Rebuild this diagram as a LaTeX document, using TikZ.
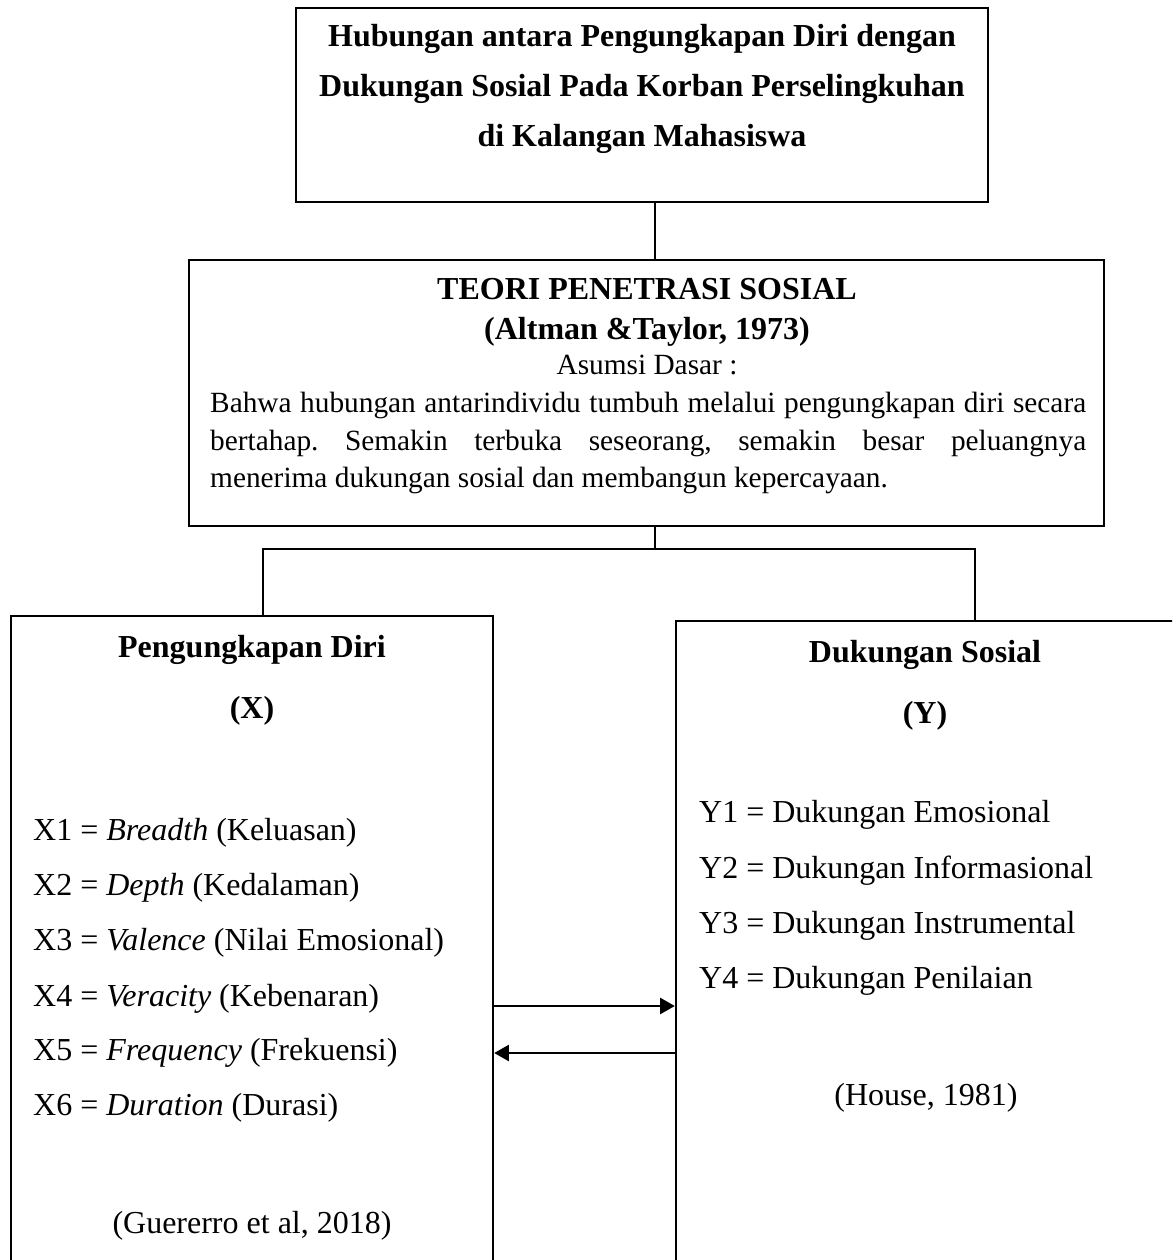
\documentclass[tikz,border=0pt]{standalone}
\usepackage{fontspec}
\setmainfont{Liberation Serif}
\usetikzlibrary{arrows.meta}
\def\upx{0.375pt}
\frenchspacing
\begin{document}
\begin{tikzpicture}[x=\upx, y=-\upx, line width=0.9pt,
  box/.style={draw, line width=0.9pt, inner sep=0pt},
  txt/.style={inner sep=0pt, font=\fontsize{12}{14.4}\selectfont},
  btxt/.style={inner sep=0pt, font=\fontsize{12}{14.4}\selectfont\bfseries},
  stxt/.style={inner sep=0pt, font=\fontsize{11}{13.2}\selectfont},
  arr/.style={-{Triangle[length=5.5pt,width=6pt]}, line width=0.9pt}]
\useasboundingbox (0,0) rectangle (1172,1260);
\clip (0,0) rectangle (1172,1260);

% boxes
\node[box, minimum width={692*\upx}, minimum height={194*\upx}] (top) at (642,105) {};
\node[box, minimum width={915*\upx}, minimum height={266*\upx}] (theory) at (646.5,393) {};
\node[box, minimum width={482*\upx}, minimum height={684*\upx}] (left) at (252,958) {};
\node[box, minimum width={524*\upx}, minimum height={679*\upx}] (right) at (938,960.5) {};

% title
\node[btxt, anchor=base] (t1) at (642,47) {Hubungan antara Pengungkapan Diri dengan};
\node[btxt, anchor=base] (t2) at (642,97) {Dukungan Sosial Pada Korban Perselingkuhan};
\node[btxt, anchor=base] (t3) at (642,147) {di Kalangan Mahasiswa};

% theory
\node[btxt, anchor=base] (h1) at (647,300) {TEORI PENETRASI SOSIAL};
\node[btxt, anchor=base] (h2) at (647,340) {(Altman \&Taylor, 1973)};
\node[stxt, anchor=base] (h3) at (647,375) {Asumsi Dasar :};
\node[stxt, anchor=base west] (p1) at (209,413) {\makebox[328.5pt][s]{Bahwa hubungan antarindividu tumbuh melalui pengungkapan diri secara}};
\node[stxt, anchor=base west] (p2) at (209,451) {\makebox[328.5pt][s]{bertahap. Semakin terbuka seseorang, semakin besar peluangnya}};
\node[stxt, anchor=base west] (p3) at (209,488) {menerima dukungan sosial dan membangun kepercayaan.};

% left box
\node[btxt, anchor=base] (lh) at (252,657) {Pengungkapan Diri};
\node[btxt, anchor=base] (lx) at (252,718) {(X)};
\node[txt, anchor=base west] (x1) at (32,840) {X1 = \textit{Breadth} (Keluasan)};
\node[txt, anchor=base west] (x2) at (32,895) {X2 = \textit{Depth} (Kedalaman)};
\node[txt, anchor=base west] (x3) at (32,950) {X3 = \textit{Valence} (Nilai Emosional)};
\node[txt, anchor=base west] (x4) at (32,1006) {X4 = \textit{Veracity} (Kebenaran)};
\node[txt, anchor=base west] (x5) at (32,1060) {X5 = \textit{Frequency} (Frekuensi)};
\node[txt, anchor=base west] (x6) at (32,1115) {X6 = \textit{Duration} (Durasi)};
\node[txt, anchor=base] (lc) at (252,1233) {(Guererro et al, 2018)};

% right box
\node[btxt, anchor=base] (rh) at (925,662) {Dukungan Sosial};
\node[btxt, anchor=base] (ry) at (925,723) {(Y)};
\node[txt, anchor=base west] (y1) at (698,822) {Y1 = Dukungan Emosional};
\node[txt, anchor=base west] (y2) at (698,878) {Y2 = Dukungan Informasional};
\node[txt, anchor=base west] (y3) at (698,933) {Y3 = Dukungan Instrumental};
\node[txt, anchor=base west] (y4) at (698,988) {Y4 = Dukungan Penilaian};
\node[txt, anchor=base] (rc) at (926,1105) {(House, 1981)};

% connectors
\coordinate (c1) at (655,0);
\draw (top.south -| c1) -- (theory.north -| c1);
\coordinate (jm) at (655,549);
\coordinate (jl) at (263,549);
\coordinate (jr) at (975,549);
\draw (theory.south -| jm) -- (jm);
\draw (left.north -| jl) -- (jl) -- (jr) -- (right.north -| jr);

% arrows
\coordinate (a1) at (0,1006);
\coordinate (a2) at (0,1053);
\draw[arr] (left.east |- a1) -- (right.west |- a1);
\draw[arr] (right.west |- a2) -- (left.east |- a2);
\end{tikzpicture}
\end{document}
